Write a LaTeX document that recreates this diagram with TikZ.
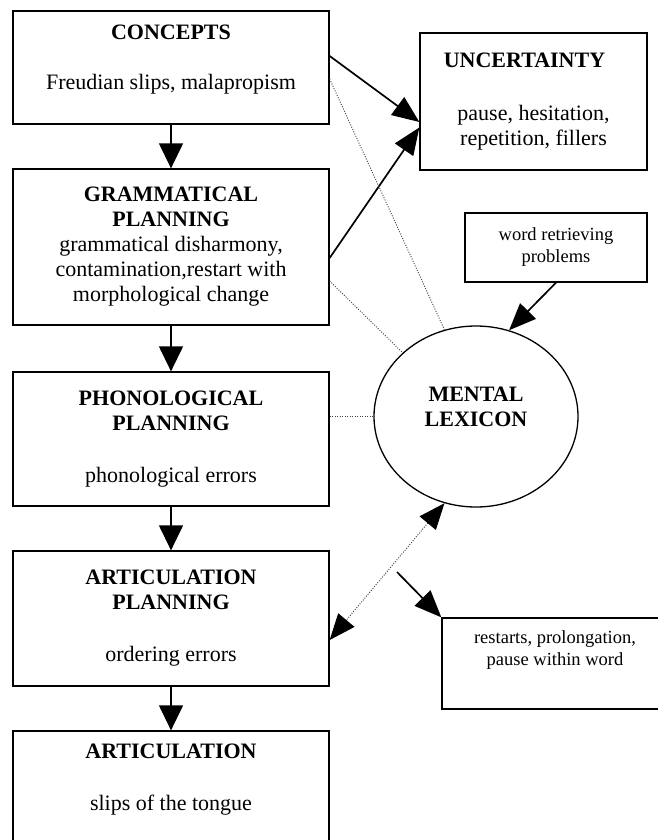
\documentclass[tikz,border=0pt]{standalone}
\usepackage{fontspec}
\setmainfont{Liberation Serif}
\usetikzlibrary{arrows.meta,shapes.geometric,calc}
\tikzset{dtip/.tip={Triangle[length=26pt,width=21pt,color=black]}}
\begin{document}
\begin{tikzpicture}[x=1pt,y=-1pt,
 box/.style={draw, line width=1.3pt, rectangle, align=center, inner sep=0pt, font=\fontsize{22}{25}\selectfont},
 smallbox/.style={draw, line width=1.3pt, rectangle, align=center, inner sep=0pt, font=\fontsize{18.5}{22}\selectfont},
 lexicon/.style={draw, ellipse, line width=1.3pt, minimum width=204pt, minimum height=181pt, align=center, inner sep=0pt, font=\fontsize{22}{25}\selectfont\bfseries},
 flow/.style={line width=1.3pt, -{Triangle[length=25pt,width=24pt]}},
 solidarrow/.style={line width=1.7pt, -{Triangle[length=27pt,width=22pt]}},
 dots/.style={line width=0.9pt, dash pattern=on 1pt off 1.5pt, draw=black!75},
]
\useasboundingbox (0,0) rectangle (658,840);
\clip (0,0) rectangle (658,840);

% left column
\node[box, minimum width=316pt, minimum height=113pt] (concepts) at (171,67.5)
  {\textbf{CONCEPTS}\\[25pt]Freudian slips, malapropism\\[-4pt]};
\node[box, minimum width=316pt, minimum height=156pt] (gramm) at (171,247)
  {\textbf{GRAMMATICAL}\\\textbf{PLANNING}\\grammatical disharmony,\\contamination,restart with\\morphological change};
\node[box, minimum width=316pt, minimum height=134pt] (phon) at (171,439)
  {\textbf{PHONOLOGICAL}\\\textbf{PLANNING}\\[27pt]phonological errors};
\node[box, minimum width=316pt, minimum height=135pt] (artplan) at (171,618.5)
  {\textbf{ARTICULATION}\\\textbf{PLANNING}\\[27pt]ordering errors};
\node[box, minimum width=316pt, minimum height=114pt] (artic) at (171,788)
  {\textbf{ARTICULATION}\\[27pt]slips of the tongue\\[-4pt]};

% right column
\node[box, minimum width=227pt, minimum height=137pt] (uncert) at (533.5,101.5)
  {\textbf{UNCERTAINTY}\hspace*{18pt}\\[28pt]pause, hesitation,\\repetition, fillers};
\node[smallbox, minimum width=182pt, minimum height=69pt] (wr) at (556,247.5)
  {word retrieving\\problems};
\node[lexicon] (lex) at (476,416.5) {MENTAL\\LEXICON\\[-6pt]};
\node[smallbox, minimum width=226pt, minimum height=91pt] (restarts) at (555,663.5)
  {restarts, prolongation,\\pause within word\\[8pt]};

% vertical flow
\draw[flow] (concepts) -- (gramm);
\draw[flow] (gramm) -- (phon);
\draw[flow] (phon) -- (artplan);
\draw[flow] (artplan) -- (artic);

% to uncertainty
\draw[solidarrow] ([yshift=11.5pt]concepts.east) -- ([yshift=-20.5pt]uncert.west);
\draw[solidarrow] ([yshift=-11pt]gramm.east) -- ([yshift=-26pt]uncert.west);

% dotted links to lexicon
\draw[dots] ([yshift=-11.5pt]concepts.east) -- (lex.110);
\draw[dots] ([yshift=-34pt]gramm.east) -- (lex.139);
\draw[dots] (phon.east |- lex.west) -- (lex.west);
\draw[dots, dtip-dtip] (lex.250) -- ([yshift=-21.5pt]artplan.east);

% word retrieving problems
\draw[solidarrow] (wr.south) -- (lex.69);

% restarts
\coordinate (rs) at (397,572);
\draw[solidarrow] (rs) -- (restarts.north west);
\end{tikzpicture}
\end{document}
